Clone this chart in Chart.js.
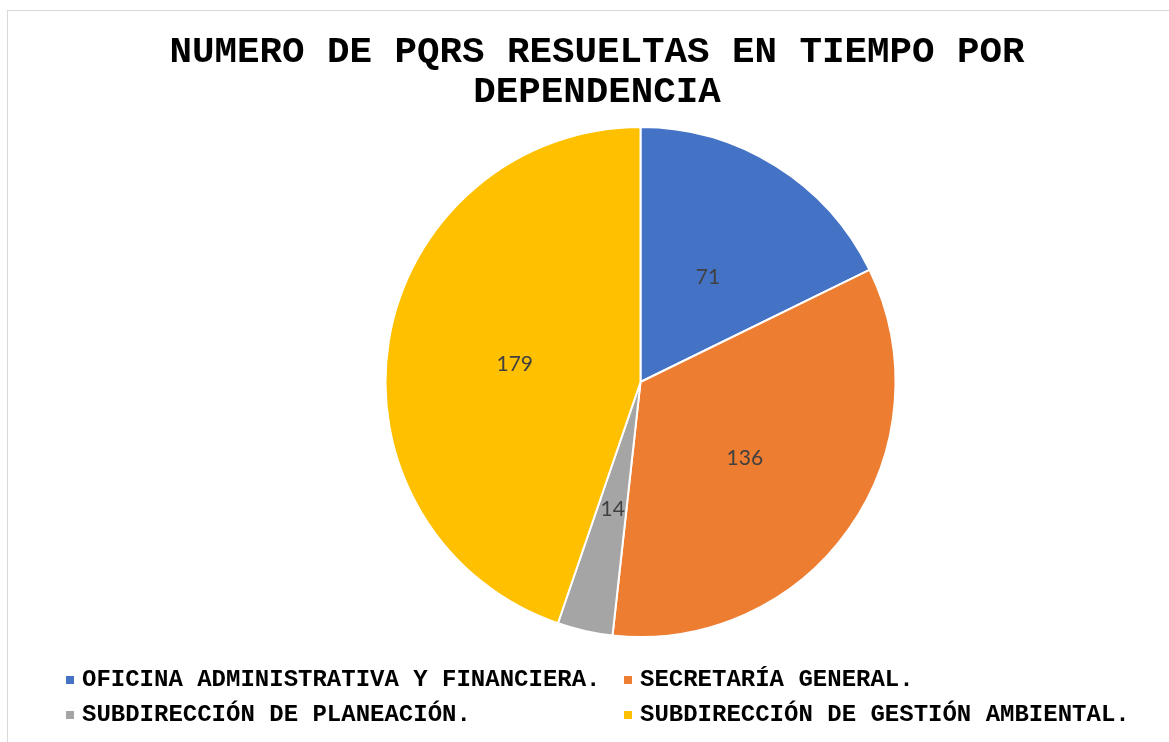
<!DOCTYPE html>
<html>
<head>
<meta charset="utf-8">
<script src="https://cdn.jsdelivr.net/npm/chart.js@4.4.1/dist/chart.umd.min.js"></script>
<style>
  html, body { margin: 0; padding: 0; background: #fff; }
  #wrap { position: relative; width: 1169px; height: 742px; overflow: hidden; }
  #frame { position: absolute; left: 7px; top: 10px; width: 1200px; height: 800px;
           border: 1px solid #d9d9d9; box-sizing: border-box; pointer-events: none; }
  canvas { position: absolute; left: 0; top: 0; }
  #title { position: absolute; left: 97px; top: 32px; width: 1000px; text-align: center;
           font-family: "Liberation Mono", "Courier New", monospace; font-weight: bold;
           font-size: 37.5px; line-height: 40px; color: #000; }
  #legend { position: absolute; left: 66px; top: 668px; display: grid;
            grid-template-columns: 558px auto; row-gap: 11px;
            font-family: "Liberation Mono", "Courier New", monospace; font-weight: bold;
            font-size: 24px; color: #000; line-height: 24px; }
  #legend .item { display: flex; align-items: center; white-space: nowrap; }
  #legend .box { width: 8px; height: 8px; margin-right: 8px; flex: none; }
</style>
</head>
<body>
<div id="wrap">
  <canvas id="chart" width="1169" height="742"></canvas>
  <div id="frame"></div>
  <div id="title"></div>
  <div id="legend"></div>
</div>
<script>
// Datos del gráfico
const dependencias = [
    'OFICINA ADMINISTRATIVA Y FINANCIERA.',
    'SECRETARÍA GENERAL.',
    'SUBDIRECCIÓN DE PLANEACIÓN.',
    'SUBDIRECCIÓN DE GESTIÓN AMBIENTAL.'
];
const pqrsResueltas = [71, 136, 14, 179];
const colores = ['#4472C4', '#ED7D31', '#A5A5A5', '#FFC000'];
const titulo = ['NUMERO DE PQRS RESUELTAS EN TIEMPO POR', 'DEPENDENCIA'];

// Etiquetas de valores dentro de cada porción (a mitad del radio)
const etiquetasValores = {
    id: 'etiquetasValores',
    afterDatasetsDraw(chart) {
        const ctx = chart.ctx;
        const meta = chart.getDatasetMeta(0);
        ctx.save();
        ctx.font = '21px Lato, "Open Sans", sans-serif';
        ctx.fillStyle = '#404040';
        ctx.textAlign = 'center';
        ctx.textBaseline = 'middle';
        meta.data.forEach((arc, i) => {
            const pos = arc.tooltipPosition();
            ctx.fillText(String(pqrsResueltas[i]), pos.x, pos.y + 3);
        });
        ctx.restore();
    }
};

new Chart(document.getElementById('chart'), {
    type: 'pie',
    data: {
        labels: dependencias,
        datasets: [{
            data: pqrsResueltas,
            backgroundColor: colores,
            borderColor: '#ffffff',
            borderWidth: 2
        }]
    },
    options: {
        responsive: false,
        animation: false,
        layout: { padding: { left: 112, right: 0, top: 126, bottom: 104 } },
        plugins: {
            legend: { display: false },
            tooltip: { enabled: false },
            title: { display: false }
        }
    },
    plugins: [etiquetasValores]
});

// Título en dos líneas
const tituloEl = document.getElementById('title');
titulo.forEach(linea => {
    const d = document.createElement('div');
    d.textContent = linea;
    tituloEl.appendChild(d);
});

// Leyenda en dos columnas
const leyenda = document.getElementById('legend');
dependencias.forEach((nombre, i) => {
    const item = document.createElement('div');
    item.className = 'item';
    const box = document.createElement('span');
    box.className = 'box';
    box.style.background = colores[i];
    item.appendChild(box);
    item.appendChild(document.createTextNode(nombre));
    leyenda.appendChild(item);
});
</script>
</body>
</html>
